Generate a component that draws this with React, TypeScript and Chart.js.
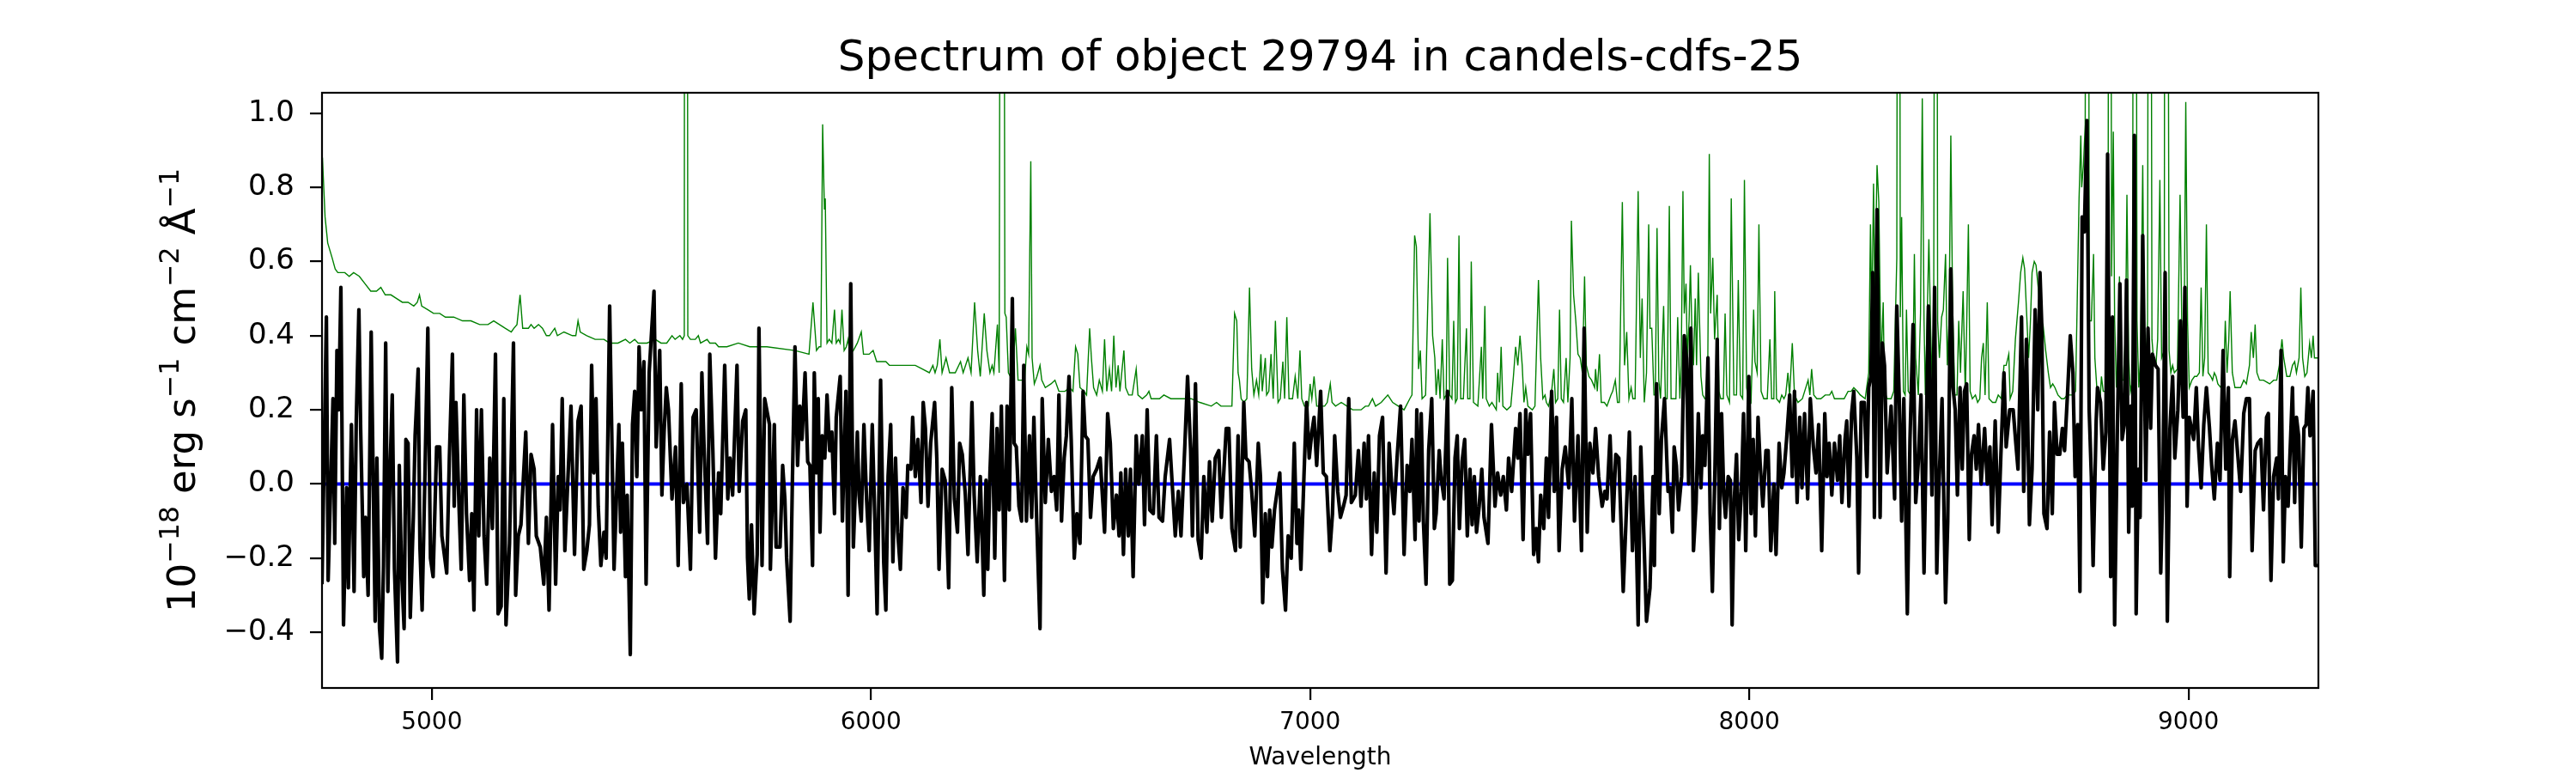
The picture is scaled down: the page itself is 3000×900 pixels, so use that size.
import { useEffect, useRef } from 'react';
import { Chart, registerables } from 'chart.js';

Chart.register(...registerables);
Chart.defaults.font.family = "'DejaVu Sans', sans-serif";
Chart.defaults.color = '#000';

const WAVE_MIN = 4750;
const WAVE_MAX = 9296;
const FLUX_MIN = -0.55;
const FLUX_MAX = 1.055;

const xTickValues = [5000, 6000, 7000, 8000, 9000];
const yTickValues = [-0.4, -0.2, 0, 0.2, 0.4, 0.6, 0.8, 1.0];

// y label pieces: [text, is superscript]
const yLabelParts: [string, boolean][] = [
  ['10', false], ['\u221218', true], [' erg s', false], ['\u22121', true],
  [' cm', false], ['\u22122', true], [' \u00C5', false], ['\u22121', true],
];

// object spectrum: [wavelength, flux]
const objectFlux: [number, number][] = [
  [4750, -0.27], [4760, 0.45], [4764, -0.26], [4775, 0.23], [4779, -0.16], [4784, 0.36], [4788, 0.2], [4793, 0.53],
  [4799, -0.38], [4806, -0.01], [4810, -0.28], [4817, 0.16], [4823, -0.29], [4828, 0.17], [4834, 0.47], [4838, 0.15],
  [4845, -0.25], [4849, -0.09], [4855, -0.3], [4862, 0.41], [4871, -0.37], [4875, 0.07], [4881, -0.39], [4886, -0.47],
  [4890, -0.22], [4895, 0.38], [4900, -0.29], [4905, 0.04], [4910, 0.24], [4915, -0.23], [4922, -0.48], [4926, 0.05],
  [4931, -0.23], [4937, -0.39], [4941, 0.12], [4946, 0.11], [4951, -0.36], [4958, -0.09], [4962, 0.13], [4969, 0.31],
  [4973, -0.17], [4978, -0.34], [4984, 0.0], [4991, 0.42], [4997, -0.2], [5003, -0.25], [5011, 0.1], [5018, 0.1],
  [5023, -0.14], [5034, -0.24], [5040, 0.07], [5047, 0.35], [5051, -0.06], [5055, 0.22], [5062, -0.06], [5067, -0.23],
  [5073, 0.24], [5079, -0.08], [5086, -0.26], [5091, -0.08], [5096, -0.34], [5102, 0.2], [5107, -0.14], [5113, 0.2],
  [5119, -0.14], [5125, -0.27], [5132, 0.07], [5138, -0.12], [5145, 0.35], [5151, -0.35], [5158, -0.33], [5164, 0.23],
  [5169, -0.38], [5177, -0.16], [5186, 0.38], [5191, -0.3], [5197, -0.14], [5203, -0.11], [5214, 0.14], [5220, -0.16],
  [5226, 0.08], [5233, 0.04], [5238, -0.14], [5247, -0.17], [5255, -0.27],
  [5261, -0.09], [5267, -0.34], [5275, 0.16], [5282, -0.27], [5288, 0.02], [5292, -0.07], [5297, 0.23], [5303, -0.18],
  [5308, -0.04], [5317, 0.21], [5325, -0.19], [5333, 0.17], [5340, 0.21], [5346, -0.23], [5353, -0.18], [5359, -0.11],
  [5364, 0.32], [5369, 0.03], [5374, 0.23], [5379, -0.06], [5385, -0.22], [5392, -0.13], [5397, -0.2], [5405, 0.48],
  [5415, -0.23], [5426, 0.16], [5430, -0.13], [5434, 0.11], [5441, -0.25], [5445, -0.03], [5452, -0.46], [5457, 0.16],
  [5462, 0.25], [5467, 0.02], [5472, 0.37], [5477, 0.2], [5483, 0.33], [5488, -0.27], [5495, 0.3], [5506, 0.52],
  [5511, 0.1], [5519, 0.36], [5524, -0.03], [5529, 0.14], [5534, 0.26], [5539, 0.2], [5547, -0.04], [5555, 0.1],
  [5561, -0.22], [5568, 0.27], [5573, -0.05], [5581, 0.0], [5589, -0.23], [5595, 0.18], [5602, 0.2], [5610, -0.13],
  [5615, 0.3], [5620, 0.1], [5628, -0.16], [5633, 0.35], [5640, 0.09], [5646, -0.2], [5653, 0.03], [5658, -0.08],
  [5667, 0.32], [5674, -0.04], [5679, 0.07], [5685, -0.03], [5695, 0.32], [5700, -0.02], [5708, 0.17], [5715, 0.2],
  [5719, -0.2], [5723, -0.31], [5728, -0.11], [5734, -0.35], [5741, -0.19], [5745, 0.42], [5752, -0.22], [5758, 0.23],
  [5769, 0.16], [5771, -0.23], [5780, 0.16], [5784, -0.17], [5793, -0.17], [5799, 0.05], [5804, -0.04], [5808, -0.2],
  [5816, -0.37], [5821, 0.0], [5827, 0.37], [5833, 0.05], [5838, 0.21], [5843, 0.12], [5850, 0.3], [5856, 0.06],
  [5861, 0.05], [5867, -0.22], [5871, 0.3], [5876, 0.03], [5880, 0.23], [5884, -0.13], [5889, 0.13], [5895, 0.07],
  [5900, 0.24], [5906, 0.09], [5911, 0.14], [5917, -0.08], [5921, 0.18], [5930, 0.29], [5935, -0.1], [5943, 0.25],
  [5948, -0.3], [5954, 0.54], [5960, -0.17], [5969, 0.14], [5973, -0.03], [5978, -0.1], [5984, 0.16], [5990, -0.04],
  [5996, -0.18], [6003, 0.16], [6009, -0.1], [6014, -0.35], [6022, 0.28], [6029, -0.21], [6034, -0.34], [6039, 0.02],
  [6045, 0.16], [6050, -0.21], [6056, 0.07], [6061, -0.13], [6067, -0.23], [6073, -0.01], [6080, -0.09], [6084, 0.05],
  [6091, 0.04], [6095, 0.18], [6101, 0.02], [6107, 0.12], [6114, -0.05], [6119, 0.22], [6124, 0.15], [6130, -0.06],
  [6136, 0.11], [6145, 0.22], [6150, 0.07], [6155, -0.23], [6162, 0.04], [6169, 0.01], [6177, -0.28], [6184, 0.26],
  [6190, -0.04], [6197, -0.13], [6202, 0.11], [6208, 0.08], [6215, -0.03], [6221, -0.19], [6230, 0.22], [6235, -0.03],
  [6242, -0.21], [6249, 0.02], [6257, -0.3], [6262, 0.01],
  [6266, -0.23], [6271, 0.03], [6276, 0.19], [6282, -0.2], [6287, 0.15], [6292, -0.07], [6297, 0.21], [6304, -0.26],
  [6310, 0.21], [6315, -0.07], [6322, 0.5], [6326, 0.11], [6331, 0.1], [6337, -0.06], [6343, -0.1], [6348, 0.32],
  [6354, -0.1], [6361, 0.13], [6366, -0.09], [6371, 0.18], [6376, -0.04], [6385, -0.39], [6390, 0.23], [6397, -0.05],
  [6404, 0.12], [6411, -0.02], [6417, 0.02], [6423, -0.07], [6428, 0.24], [6434, -0.1], [6440, 0.07], [6445, 0.13],
  [6451, 0.29], [6456, 0.12], [6463, -0.2], [6469, -0.08], [6476, -0.16], [6483, 0.25], [6488, 0.13], [6494, 0.12],
  [6500, -0.09], [6506, 0.02], [6514, 0.04], [6522, 0.07], [6532, -0.13], [6539, 0.19], [6545, 0.11], [6552, -0.12],
  [6559, -0.03], [6565, -0.14], [6569, 0.03], [6575, -0.19], [6580, 0.04], [6586, -0.14], [6591, 0.04], [6597, -0.25],
  [6604, 0.13], [6610, 0.0], [6618, 0.13], [6623, -0.11], [6629, 0.2], [6635, -0.07], [6643, -0.08], [6650, 0.13],
  [6656, -0.09], [6664, -0.1], [6670, 0.02], [6680, 0.12], [6687, -0.02], [6693, -0.14], [6700, -0.02], [6706, -0.14],
  [6715, 0.11], [6721, 0.29], [6728, 0.09], [6732, -0.14], [6739, 0.27], [6745, -0.15], [6752, -0.2], [6758, 0.02],
  [6765, -0.13], [6771, 0.06],
  [6777, -0.1], [6784, 0.07], [6792, 0.09], [6798, -0.09], [6803, 0.02], [6809, 0.15], [6815, 0.15], [6822, -0.12],
  [6830, -0.18], [6836, 0.13], [6841, -0.17], [6849, 0.22], [6854, 0.07], [6861, 0.06], [6867, -0.02], [6874, -0.14],
  [6882, 0.11], [6887, 0.02], [6892, -0.32], [6898, -0.08], [6903, -0.25], [6908, -0.07], [6913, -0.17], [6919, -0.07],
  [6925, -0.02], [6931, 0.03], [6937, -0.23], [6944, -0.34], [6950, -0.14], [6957, -0.2], [6964, 0.11], [6970, -0.16],
  [6974, -0.07], [6979, -0.23], [6986, 0.02], [6992, 0.22], [6998, 0.07], [7004, 0.14], [7009, 0.18], [7015, 0.05],
  [7024, 0.25], [7030, 0.03], [7037, 0.02], [7045, -0.18], [7051, -0.08], [7056, 0.13], [7063, -0.02], [7069, -0.09],
  [7076, -0.06], [7082, -0.03], [7088, 0.23], [7094, -0.05], [7103, -0.03], [7110, 0.09], [7116, -0.06], [7123, 0.11],
  [7128, -0.04], [7133, 0.13], [7140, -0.19], [7146, 0.03], [7152, -0.13], [7158, 0.13], [7165, 0.18], [7173, -0.24],
  [7180, 0.11], [7185, 0.01], [7191, -0.08], [7198, 0.07], [7206, 0.21], [7214, -0.19], [7221, 0.05], [7227, -0.02],
  [7232, 0.12], [7239, -0.15], [7243, 0.2], [7248, -0.1], [7253, 0.19], [7258, -0.1], [7264, -0.27], [7270, 0.09],
  [7277, 0.23], [7283, -0.12], [7287, -0.08], [7294, 0.09], [7298, 0.02], [7305, -0.04], [7313, 0.25], [7318, -0.27],
  [7324, -0.26], [7330, 0.07], [7335, 0.13], [7340, -0.12], [7346, 0.06], [7352, 0.12], [7358, -0.14], [7364, 0.04],
  [7369, -0.11], [7374, 0.02], [7379, -0.13], [7385, -0.06], [7391, 0.04], [7396, -0.09], [7405, -0.16], [7413, 0.16],
  [7421, -0.06], [7427, 0.03], [7434, -0.03], [7440, 0.02], [7447, -0.07], [7452, 0.07], [7459, -0.02], [7468, 0.15],
  [7473, 0.07], [7478, 0.19], [7485, -0.15], [7491, 0.2], [7496, 0.08], [7502, 0.19], [7509, -0.19], [7515, -0.12],
  [7520, -0.21], [7525, -0.03], [7532, -0.12], [7538, 0.07], [7543, -0.09], [7550, 0.25], [7556, -0.02], [7561, 0.18],
  [7567, -0.18], [7574, 0.04], [7581, 0.1], [7589, -0.01], [7596, 0.23], [7602, -0.1], [7610, 0.13], [7618, -0.18],
  [7624, 0.42], [7631, -0.13], [7637, 0.11], [7644, 0.03], [7650, 0.15], [7657, 0.02], [7665, -0.06], [7671, -0.02],
  [7676, -0.04], [7683, 0.13], [7690, -0.1], [7696, 0.08], [7703, 0.07], [7709, -0.14], [7713, -0.29], [7720, -0.08],
  [7727, 0.14], [7734, -0.18], [7740, 0.02], [7747, -0.38], [7753, 0.1], [7760, -0.14], [7766, -0.37], [7774, -0.28],
  [7781, 0.02],
  [7784, -0.22], [7789, 0.27], [7795, -0.08], [7800, 0.12], [7807, 0.23], [7815, -0.02], [7820, -0.01], [7825, -0.13],
  [7829, 0.1], [7834, 0.05], [7839, -0.07], [7846, 0.02], [7852, 0.4], [7857, 0.34], [7862, 0.0], [7867, 0.42],
  [7873, -0.18], [7879, -0.05], [7884, 0.19], [7890, -0.01], [7894, 0.13], [7899, 0.05], [7906, 0.34], [7911, -0.08],
  [7916, -0.29], [7922, 0.05], [7927, 0.39], [7932, -0.12], [7937, 0.19], [7942, -0.03], [7946, -0.09], [7952, 0.02],
  [7957, 0.01], [7961, -0.38], [7966, -0.04], [7971, 0.08], [7976, -0.15], [7982, -0.02], [7987, 0.19], [7992, -0.18],
  [7999, 0.29], [8004, -0.08], [8009, 0.12], [8014, -0.14], [8020, 0.18], [8025, 0.05], [8031, -0.06], [8038, 0.09],
  [8043, 0.09], [8049, -0.18], [8056, 0.0], [8061, -0.19], [8068, 0.11], [8074, -0.01], [8079, 0.03], [8085, 0.12],
  [8092, 0.24], [8098, 0.02], [8103, 0.25], [8109, -0.05], [8115, 0.18], [8120, -0.01], [8126, 0.19], [8133, -0.04],
  [8139, 0.23], [8146, 0.1], [8152, 0.03], [8158, 0.16], [8165, -0.18], [8172, 0.19], [8177, 0.02], [8182, 0.11],
  [8188, -0.03], [8194, 0.11], [8201, 0.01], [8206, 0.13], [8211, -0.05], [8218, 0.12], [8222, 0.17], [8227, -0.06],
  [8233, 0.19], [8238, 0.25], [8245, 0.07], [8249, -0.24], [8255, 0.22], [8262, 0.22], [8268, 0.02], [8272, 0.26],
  [8277, 0.29], [8281, 0.57], [8285, -0.09],
  [8291, 0.74], [8298, -0.09], [8303, 0.38], [8308, 0.32], [8314, 0.03], [8323, 0.21], [8331, -0.04], [8336, 0.48],
  [8342, 0.21], [8347, -0.1], [8352, 0.23], [8360, -0.35], [8366, 0.12], [8373, 0.43], [8379, -0.05], [8385, 0.06],
  [8391, 0.24], [8398, -0.24], [8403, 0.13], [8408, 0.48], [8416, -0.03], [8422, 0.53], [8427, -0.24], [8431, -0.04],
  [8439, 0.23], [8447, -0.32], [8452, -0.1], [8459, 0.58], [8464, 0.26], [8469, 0.2], [8474, -0.03], [8480, 0.26],
  [8485, 0.04], [8490, 0.25], [8495, 0.27], [8501, -0.15], [8506, 0.08], [8512, 0.13], [8517, 0.04], [8522, 0.16],
  [8528, 0.0], [8536, 0.15], [8542, 0.0], [8548, 0.1], [8553, -0.11], [8560, 0.17], [8567, -0.13], [8573, 0.08],
  [8580, 0.3], [8585, 0.1], [8593, 0.2], [8601, 0.2], [8607, 0.11], [8612, 0.04], [8620, 0.45], [8625, -0.02],
  [8631, 0.39], [8638, -0.11], [8644, 0.04], [8651, 0.47], [8657, 0.2], [8662, 0.57], [8666, 0.43], [8671, -0.08],
  [8678, -0.12], [8684, 0.14], [8690, -0.08], [8695, 0.22], [8701, 0.08], [8707, 0.08], [8713, 0.15], [8718, 0.09],
  [8725, 0.25], [8731, 0.4], [8737, 0.3], [8742, 0.02], [8748, 0.16], [8753, -0.29], [8758, 0.72], [8763, 0.68],
  [8769, 0.98], [8774, 0.2], [8779, 0.02], [8783, -0.22], [8790, 0.17],
  [8793, 0.26], [8800, 0.22], [8806, 0.04], [8812, 0.14], [8816, 0.89], [8823, -0.25], [8827, 0.45], [8832, -0.38],
  [8838, 0.13], [8844, 0.54], [8849, 0.12], [8855, 0.17], [8859, 0.55], [8864, -0.13], [8869, 0.21], [8872, -0.06],
  [8877, 0.94], [8881, -0.35], [8886, 0.04], [8890, -0.09], [8896, 0.67], [8903, 0.01], [8908, 0.42], [8914, 0.15],
  [8918, 0.35], [8925, 0.32], [8931, 0.31], [8937, -0.24], [8942, 0.01], [8947, 0.57], [8952, -0.37], [8958, 0.15],
  [8964, 0.29], [8969, 0.07], [8976, 0.2], [8982, 0.44], [8988, 0.18], [8992, 0.53], [8997, -0.06], [9002, 0.18],
  [9007, 0.15], [9012, 0.12], [9018, 0.26], [9023, 0.1], [9029, -0.01], [9035, 0.16], [9041, 0.26], [9048, 0.15],
  [9053, 0.05], [9059, -0.04], [9066, 0.11], [9072, 0.01], [9079, 0.36], [9085, 0.04], [9091, 0.26], [9094, -0.25],
  [9100, 0.12], [9106, 0.17], [9113, 0.07], [9119, -0.02], [9126, 0.19], [9132, 0.23], [9139, 0.23], [9145, -0.18],
  [9152, 0.09], [9158, 0.11], [9165, 0.12], [9171, -0.07], [9178, 0.18], [9182, 0.19], [9188, -0.26], [9194, 0.02],
  [9201, 0.07], [9205, -0.04], [9211, 0.36], [9216, -0.21], [9221, 0.02], [9227, -0.06], [9231, 0.07], [9237, 0.26],
  [9242, -0.05], [9246, 0.18], [9251, 0.13], [9257, -0.17], [9263, 0.15], [9268, 0.16], [9272, 0.26], [9277, 0.13],
  [9284, 0.25], [9289, -0.22], [9296, -0.22],
];

// green sky / noise spectrum: [wavelength, flux]; lines that leave the top are estimated
const skyFlux: [number, number][] = [
  [4751, 0.88], [4757, 0.72], [4763, 0.65], [4773, 0.61], [4780, 0.58], [4786, 0.57], [4802, 0.57], [4812, 0.56],
  [4822, 0.57], [4835, 0.56], [4848, 0.54], [4861, 0.52], [4874, 0.52], [4884, 0.53], [4894, 0.51], [4907, 0.51],
  [4920, 0.5], [4933, 0.49], [4946, 0.49], [4959, 0.48], [4967, 0.49], [4972, 0.51], [4977, 0.48], [4991, 0.47],
  [5004, 0.46], [5018, 0.46], [5031, 0.45], [5050, 0.45], [5070, 0.44], [5089, 0.44], [5109, 0.43], [5128, 0.43],
  [5141, 0.44], [5154, 0.43], [5167, 0.42], [5181, 0.41], [5187, 0.42], [5194, 0.43], [5201, 0.51], [5207, 0.42],
  [5220, 0.42], [5226, 0.43], [5233, 0.42], [5243, 0.43], [5252, 0.42],
  [5261, 0.4], [5268, 0.4], [5280, 0.42], [5286, 0.4], [5301, 0.41], [5320, 0.4], [5328, 0.4], [5333, 0.44],
  [5338, 0.41], [5353, 0.4], [5372, 0.39], [5392, 0.39], [5405, 0.38], [5424, 0.38], [5441, 0.39], [5451, 0.38],
  [5462, 0.39], [5470, 0.38], [5490, 0.38], [5509, 0.39], [5522, 0.38], [5535, 0.38], [5547, 0.4], [5554, 0.39],
  [5565, 0.4], [5571, 0.39], [5575, 0.4], [5576, 3.0], [5581, 3.0], [5583, 0.4], [5589, 0.39], [5594, 0.39],
  [5600, 0.39], [5607, 0.4], [5612, 0.38], [5627, 0.39], [5633, 0.38], [5646, 0.38], [5653, 0.37], [5672, 0.37],
  [5698, 0.38], [5724, 0.37], [5750, 0.37], [5763, 0.37],
  [5827, 0.36], [5859, 0.35], [5868, 0.49], [5876, 0.36], [5882, 0.37], [5886, 0.37], [5890, 0.97], [5894, 0.74],
  [5896, 0.77], [5900, 0.38], [5905, 0.39], [5911, 0.38], [5917, 0.47], [5921, 0.38], [5926, 0.39], [5930, 0.38],
  [5934, 0.47], [5939, 0.36], [5944, 0.37], [5948, 0.39], [5952, 0.35], [5960, 0.36], [5969, 0.38], [5978, 0.41],
  [5983, 0.35], [5996, 0.35], [6005, 0.36], [6013, 0.33], [6022, 0.33], [6034, 0.33], [6042, 0.32], [6061, 0.32],
  [6081, 0.32], [6101, 0.32], [6117, 0.31], [6133, 0.3], [6141, 0.32], [6146, 0.3], [6151, 0.32], [6157, 0.39],
  [6162, 0.3], [6171, 0.34], [6179, 0.3], [6192, 0.3], [6204, 0.33], [6210, 0.3], [6221, 0.34], [6228, 0.3],
  [6236, 0.49], [6243, 0.36], [6249, 0.29], [6258, 0.46], [6264, 0.36],
  [6271, 0.3], [6276, 0.32], [6280, 0.3], [6288, 0.43], [6292, 0.3], [6296, 3.0], [6301, 3.0], [6305, 0.46],
  [6308, 0.45], [6313, 0.3], [6322, 0.28], [6329, 0.42], [6335, 0.28], [6343, 0.28], [6350, 0.28], [6355, 0.37],
  [6359, 0.35], [6364, 0.87], [6367, 0.34], [6372, 0.27], [6378, 0.29], [6385, 0.32], [6389, 0.28], [6397, 0.26],
  [6410, 0.27], [6419, 0.28], [6428, 0.25], [6442, 0.25], [6452, 0.26], [6460, 0.25], [6466, 0.37], [6471, 0.35],
  [6476, 0.26], [6485, 0.25], [6491, 0.24], [6498, 0.42], [6502, 0.34], [6507, 0.26], [6514, 0.24], [6520, 0.28],
  [6527, 0.25], [6532, 0.39], [6537, 0.25], [6543, 0.31], [6548, 0.25], [6553, 0.4], [6558, 0.26], [6563, 0.32],
  [6567, 0.25], [6576, 0.36], [6580, 0.26], [6587, 0.24], [6595, 0.24], [6604, 0.31], [6608, 0.24], [6618, 0.23],
  [6628, 0.24], [6633, 0.25], [6638, 0.23], [6657, 0.23], [6667, 0.24], [6683, 0.23], [6698, 0.23], [6716, 0.23],
  [6729, 0.23], [6749, 0.22], [6775, 0.21],
  [6787, 0.22], [6797, 0.21], [6822, 0.21], [6828, 0.46], [6833, 0.44], [6836, 0.3], [6839, 0.28], [6843, 0.23],
  [6849, 0.22], [6856, 0.23], [6862, 0.53], [6867, 0.31], [6872, 0.24], [6878, 0.28], [6883, 0.24], [6888, 0.35],
  [6891, 0.25], [6898, 0.34], [6901, 0.24], [6906, 0.25], [6911, 0.35], [6916, 0.23], [6921, 0.44], [6927, 0.22],
  [6932, 0.23], [6938, 0.33], [6942, 0.23], [6947, 0.45], [6952, 0.23], [6960, 0.23], [6966, 0.29], [6972, 0.23],
  [6977, 0.36], [6981, 0.23], [6987, 0.21], [6996, 0.21], [7000, 0.27], [7004, 0.23], [7009, 0.29], [7015, 0.21],
  [7025, 0.21], [7033, 0.21], [7039, 0.22], [7046, 0.27], [7050, 0.22], [7058, 0.21], [7071, 0.22], [7084, 0.21],
  [7097, 0.2], [7116, 0.2], [7126, 0.21], [7133, 0.21], [7142, 0.23], [7149, 0.21], [7162, 0.22], [7177, 0.24],
  [7188, 0.22], [7201, 0.21], [7214, 0.2], [7227, 0.23], [7232, 0.24], [7238, 0.67], [7242, 0.64], [7247, 0.31],
  [7251, 0.36], [7255, 0.23], [7263, 0.24], [7273, 0.73], [7279, 0.4],
  [7284, 0.34], [7287, 0.24], [7292, 0.31], [7296, 0.23], [7301, 0.39], [7305, 0.23], [7310, 0.24], [7313, 0.61],
  [7318, 0.24], [7323, 0.23], [7327, 0.44], [7331, 0.22], [7335, 0.23], [7339, 0.67], [7343, 0.23], [7349, 0.23],
  [7356, 0.42], [7359, 0.23], [7364, 0.23], [7367, 0.6], [7372, 0.22], [7382, 0.21], [7390, 0.37], [7393, 0.23],
  [7398, 0.48], [7401, 0.23], [7408, 0.21], [7414, 0.22], [7424, 0.2], [7427, 0.3], [7431, 0.22], [7435, 0.37],
  [7439, 0.21], [7448, 0.2], [7457, 0.21], [7463, 0.29], [7468, 0.37], [7473, 0.32], [7478, 0.4], [7483, 0.32],
  [7487, 0.22], [7491, 0.26], [7496, 0.21], [7506, 0.2], [7512, 0.21], [7520, 0.55], [7525, 0.34], [7530, 0.23],
  [7535, 0.24], [7538, 0.22], [7543, 0.21], [7550, 0.25], [7555, 0.31], [7559, 0.22], [7564, 0.23], [7568, 0.47],
  [7572, 0.23], [7577, 0.22], [7583, 0.34], [7587, 0.22], [7592, 0.34], [7595, 0.71], [7600, 0.51], [7605, 0.44],
  [7610, 0.35], [7615, 0.34], [7620, 0.3], [7625, 0.56], [7629, 0.32], [7635, 0.29], [7641, 0.28], [7648, 0.26],
  [7650, 0.31], [7654, 0.25], [7659, 0.35], [7663, 0.22], [7670, 0.22], [7676, 0.21], [7685, 0.24], [7689, 0.25],
  [7695, 0.28], [7700, 0.22], [7704, 0.22], [7711, 0.76], [7716, 0.32], [7721, 0.41], [7726, 0.23], [7731, 0.26],
  [7735, 0.23], [7740, 0.23], [7747, 0.79], [7752, 0.34], [7756, 0.5], [7761, 0.22], [7766, 0.3], [7771, 0.7],
  [7774, 0.42], [7778, 0.42], [7783, 0.24], [7786, 0.24],
  [7790, 0.69], [7794, 0.28], [7798, 0.23], [7805, 0.48], [7809, 0.23], [7813, 0.23], [7818, 0.75], [7822, 0.23],
  [7829, 0.23], [7833, 0.23], [7837, 0.45], [7842, 0.23], [7845, 0.32], [7849, 0.79], [7852, 0.46], [7856, 0.54],
  [7859, 0.34], [7863, 0.44], [7866, 0.59], [7870, 0.38], [7873, 0.32], [7877, 0.5], [7880, 0.32], [7884, 0.57],
  [7890, 0.29], [7894, 0.24], [7899, 0.23], [7905, 0.23], [7909, 0.89], [7912, 0.46], [7917, 0.61], [7921, 0.39],
  [7927, 0.51], [7931, 0.25], [7935, 0.23], [7941, 0.23], [7945, 0.46], [7949, 0.24], [7955, 0.22], [7959, 0.77],
  [7965, 0.24], [7971, 0.24], [7975, 0.55], [7980, 0.24], [7985, 0.23], [7989, 0.82], [7994, 0.26], [7998, 0.23],
  [8004, 0.22], [8010, 0.47], [8013, 0.33], [8018, 0.3], [8022, 0.7], [8027, 0.25], [8033, 0.23], [8041, 0.23],
  [8047, 0.39], [8051, 0.23], [8056, 0.23], [8058, 0.52], [8062, 0.23], [8069, 0.22], [8074, 0.24], [8079, 0.23],
  [8083, 0.24], [8088, 0.3], [8092, 0.24], [8098, 0.38], [8103, 0.24], [8111, 0.22], [8121, 0.23], [8134, 0.28],
  [8138, 0.24], [8142, 0.31], [8147, 0.24], [8154, 0.23], [8163, 0.23], [8173, 0.24], [8183, 0.24], [8188, 0.25],
  [8194, 0.23], [8206, 0.23], [8216, 0.23], [8225, 0.25], [8232, 0.25], [8238, 0.26], [8246, 0.25], [8253, 0.24],
  [8264, 0.23], [8272, 0.3], [8276, 0.7], [8279, 0.44], [8283, 0.81], [8286, 0.5], [8291, 0.86], [8295, 0.76],
  [8300, 0.32], [8305, 0.49], [8308, 0.25], [8314, 0.23], [8323, 0.23], [8329, 0.25], [8336, 0.61], [8339, 3.0],
  [8341, 3.0], [8344, 0.45], [8347, 0.72], [8351, 0.25], [8355, 0.24], [8358, 0.47], [8362, 0.25], [8368, 0.24],
  [8373, 0.32], [8376, 0.62], [8379, 0.34], [8385, 0.24], [8390, 0.46], [8394, 1.04], [8398, 0.44], [8401, 0.24],
  [8405, 0.44], [8409, 0.66], [8413, 0.42], [8417, 0.25], [8420, 0.44], [8424, 3.0], [8426, 3.0], [8429, 0.44],
  [8433, 0.34], [8438, 0.45], [8442, 0.47], [8447, 0.62], [8451, 0.32], [8455, 0.44], [8459, 0.94], [8463, 0.49],
  [8468, 0.24], [8473, 0.24], [8477, 0.44], [8481, 0.3], [8487, 0.52], [8492, 0.24], [8495, 0.42], [8499, 0.7],
  [8503, 0.25], [8508, 0.23], [8515, 0.24], [8520, 0.22], [8525, 0.23], [8529, 0.34], [8533, 0.38], [8537, 0.24],
  [8542, 0.49], [8546, 0.23], [8554, 0.22], [8561, 0.22], [8567, 0.24], [8574, 0.23], [8580, 0.32], [8585, 0.32],
  [8591, 0.35], [8594, 0.23], [8600, 0.25], [8606, 0.39], [8613, 0.49], [8618, 0.57], [8623, 0.61], [8627, 0.58],
  [8632, 0.45], [8636, 0.34], [8640, 0.43], [8644, 0.57], [8649, 0.6], [8653, 0.59], [8658, 0.53], [8664, 0.44],
  [8669, 0.43], [8675, 0.36], [8681, 0.3], [8686, 0.26], [8691, 0.27], [8696, 0.26], [8703, 0.24], [8711, 0.23],
  [8717, 0.23], [8724, 0.24], [8730, 0.24], [8737, 0.24], [8743, 0.25], [8746, 0.44], [8751, 0.77], [8755, 0.94],
  [8757, 0.8], [8761, 0.86], [8765, 0.97], [8769, 3.0], [8772, 3.0], [8774, 0.44], [8779, 0.44], [8784, 0.62],
  [8787, 0.34], [8792, 0.25],
  [8799, 0.23], [8802, 0.29], [8806, 0.25], [8812, 0.25], [8817, 0.32], [8819, 3.0], [8822, 3.0], [8825, 0.56],
  [8829, 0.95], [8832, 0.44], [8836, 0.26], [8840, 0.34], [8843, 0.56], [8847, 0.28], [8852, 0.28], [8857, 0.42],
  [8860, 0.78], [8864, 0.34], [8868, 0.25], [8873, 0.28], [8875, 3.0], [8879, 3.0], [8883, 0.44], [8887, 0.26],
  [8891, 0.34], [8896, 0.86], [8899, 0.44], [8904, 0.34], [8907, 0.44], [8910, 3.0], [8913, 3.0], [8917, 0.39],
  [8921, 0.33], [8926, 0.32], [8930, 0.39], [8935, 0.82], [8939, 0.34], [8945, 0.36], [8947, 3.0], [8951, 3.0],
  [8956, 0.36], [8960, 0.3], [8964, 0.32], [8968, 0.3], [8975, 0.31], [8981, 0.78], [8985, 0.42], [8990, 0.36],
  [8994, 1.03], [8998, 0.44], [9002, 0.26], [9008, 0.28], [9014, 0.29], [9019, 0.29], [9025, 0.3], [9029, 0.53],
  [9033, 0.29], [9037, 0.34], [9041, 0.7], [9045, 0.3], [9051, 0.29], [9055, 0.28], [9059, 0.3], [9063, 0.29],
  [9067, 0.27], [9074, 0.26], [9080, 0.27], [9084, 0.44], [9088, 0.3], [9092, 0.39], [9095, 0.52], [9100, 0.3],
  [9106, 0.26], [9119, 0.26], [9126, 0.28], [9132, 0.27], [9139, 0.32], [9143, 0.41], [9148, 0.34], [9152, 0.43],
  [9156, 0.3], [9162, 0.28], [9171, 0.28], [9185, 0.27], [9194, 0.28], [9201, 0.28], [9207, 0.32], [9213, 0.39],
  [9217, 0.34], [9224, 0.29], [9231, 0.29], [9237, 0.32], [9242, 0.33], [9246, 0.3], [9252, 0.34], [9256, 0.53],
  [9260, 0.34], [9265, 0.29], [9270, 0.3], [9276, 0.38], [9280, 0.34], [9284, 0.4], [9287, 0.34], [9292, 0.34],
  [9296, 0.34],
];

const zeroLine: [number, number][] = [[WAVE_MIN, 0], [WAVE_MAX, 0]];

const toXY = (pts: [number, number][]) => pts.map(([x, y]) => ({ x, y }));

const fmtFlux = (v: number) => {
  const r = Math.round(v * 10) / 10;
  if (Math.abs(r) < 1e-9) return '0.0';
  return (r < 0 ? '\u2212' : '') + Math.abs(r).toFixed(1);
};

// matplotlib draws the spines over the lines
const framePlugin = {
  id: 'frame',
  afterDatasetsDraw(chart: Chart) {
    const { ctx, chartArea } = chart;
    ctx.save();
    ctx.strokeStyle = '#000';
    ctx.lineWidth = 2.2;
    ctx.strokeRect(chartArea.left, chartArea.top, chartArea.right - chartArea.left, chartArea.bottom - chartArea.top);
    ctx.restore();
  },
};

// rotated y label with real superscripts, like matplotlib mathtext
const yLabelPlugin = {
  id: 'yLabel',
  afterDraw(chart: Chart) {
    const { ctx, chartArea } = chart;
    const baseFont = "45px 'DejaVu Sans', sans-serif";
    const supFont = "31.5px 'DejaVu Sans', sans-serif";
    ctx.save();
    let total = 0;
    const widths = yLabelParts.map(([text, sup]) => {
      ctx.font = sup ? supFont : baseFont;
      const w = ctx.measureText(text).width;
      total += w;
      return w;
    });
    ctx.translate(227, (chartArea.top + chartArea.bottom) / 2);
    ctx.rotate(-Math.PI / 2);
    ctx.fillStyle = '#000';
    ctx.textAlign = 'left';
    ctx.textBaseline = 'alphabetic';
    let x = -total / 2;
    yLabelParts.forEach(([text, sup], i) => {
      ctx.font = sup ? supFont : baseFont;
      ctx.fillText(text, x, sup ? -19 : 0);
      x += widths[i];
    });
    ctx.restore();
  },
};

const tickGrid = {
  display: true,
  drawOnChartArea: false,
  drawTicks: true,
  tickLength: 14,
  color: '#000',
  lineWidth: 2.2,
};

export default function App() {
  const canvasRef = useRef<HTMLCanvasElement>(null);
  const chartRef = useRef<Chart | null>(null);

  useEffect(() => {
    if (!canvasRef.current) return;
    if (chartRef.current) chartRef.current.destroy();

    chartRef.current = new Chart(canvasRef.current, {
      type: 'line',
      data: {
        datasets: [
          {
            label: 'flux',
            data: toXY(objectFlux),
            borderColor: '#000000',
            borderWidth: 4.2,
            pointRadius: 0,
            tension: 0,
            borderJoinStyle: 'round',
            clip: 0,
            order: 0,
            xAxisID: 'x',
            yAxisID: 'y',
          },
          {
            label: 'sky',
            data: toXY(skyFlux),
            borderColor: '#008000',
            borderWidth: 1.4,
            pointRadius: 0,
            tension: 0,
            clip: 0,
            order: 1,
            xAxisID: 'x',
            yAxisID: 'y',
          },
          {
            label: 'zero',
            data: toXY(zeroLine),
            borderColor: '#0000ff',
            borderWidth: 4.2,
            pointRadius: 0,
            clip: 0,
            order: 2,
            xAxisID: 'x',
            yAxisID: 'y',
          },
        ],
      },
      options: {
        animation: false,
        responsive: false,
        devicePixelRatio: 1,
        events: [],
        layout: { padding: { left: 75, right: 0, top: 0, bottom: 0 } },
        plugins: {
          legend: { display: false },
          tooltip: { enabled: false },
          title: {
            display: true,
            text: 'Spectrum of object 29794 in candels-cdfs-25',
            color: '#000',
            font: { size: 50, weight: 'normal' },
            padding: { top: 39, bottom: 9 },
          },
        },
        scales: {
          x: {
            type: 'linear',
            position: 'bottom',
            min: WAVE_MIN,
            max: WAVE_MAX,
            afterBuildTicks: (axis: any) => {
              axis.ticks = xTickValues.map((value) => ({ value }));
            },
            afterFit: (axis: any) => {
              axis.height = 99;
            },
            ticks: {
              autoSkip: false,
              maxRotation: 0,
              padding: 10,
              color: '#000',
              font: { size: 28 },
              callback: (v: any) => String(v),
            },
            grid: tickGrid,
            border: { display: false },
            title: {
              display: true,
              text: 'Wavelength',
              color: '#000',
              font: { size: 28 },
              padding: { top: 0, bottom: 0 },
            },
          },
          y: {
            type: 'linear',
            position: 'left',
            min: FLUX_MIN,
            max: FLUX_MAX,
            afterBuildTicks: (axis: any) => {
              axis.ticks = yTickValues.map((value) => ({ value }));
            },
            afterFit: (axis: any) => {
              axis.width = 300;
            },
            ticks: {
              autoSkip: false,
              padding: 18,
              color: '#000',
              font: { size: 34 },
              callback: (v: any) => fmtFlux(Number(v)),
            },
            grid: tickGrid,
            border: { display: false },
            title: { display: false },
          },
          yRight: {
            type: 'linear',
            position: 'right',
            min: FLUX_MIN,
            max: FLUX_MAX,
            afterFit: (axis: any) => {
              axis.width = 300;
            },
            ticks: { display: false },
            grid: { display: false },
            border: { display: false },
          },
        },
      },
      plugins: [framePlugin, yLabelPlugin],
    });

    return () => {
      if (chartRef.current) {
        chartRef.current.destroy();
        chartRef.current = null;
      }
    };
  }, []);

  return (
    <div style={{ position: 'fixed', left: 0, top: 0, width: 3000, height: 900, background: '#fff' }}>
      <canvas ref={canvasRef} width={3000} height={900} style={{ display: 'block', width: 3000, height: 900 }} />
    </div>
  );
}
